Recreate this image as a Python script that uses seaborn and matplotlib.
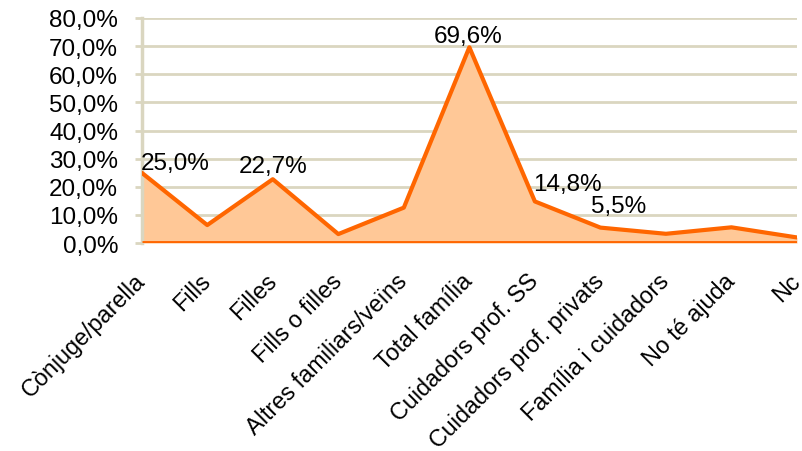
import matplotlib
matplotlib.use("Agg")
import matplotlib.pyplot as plt
import seaborn as sns
import pandas as pd
import numpy as np

categories = ["Cònjuge/parella", "Fills", "Filles", "Fills o filles",
              "Altres familiars/veïns", "Total família", "Cuidadors prof. SS",
              "Cuidadors prof. privats", "Família i cuidadors", "No té ajuda", "Nc"]
values = [25.0, 6.4, 22.7, 3.2, 12.6, 69.6, 14.8, 5.5, 3.3, 5.6, 2.0]
labelled = {0: "25,0%", 2: "22,7%", 5: "69,6%", 6: "14,8%", 7: "5,5%"}
yticks = [0, 10, 20, 30, 40, 50, 60, 70, 80]
ytick_labels = ["0,0%", "10,0%", "20,0%", "30,0%", "40,0%", "50,0%", "60,0%", "70,0%", "80,0%"]

sns.set_style("white")
plt.rcParams['font.family'] = ['Liberation Sans', 'DejaVu Sans']

df = pd.DataFrame({"x": np.arange(len(categories)), "v": values})

fig = plt.figure(figsize=(8.03, 4.52), dpi=100)
ax = fig.add_axes([0.1765, 0.46, 0.816, 0.498])

grid_c = "#DAD6C0"
line_c = "#FF6600"
fill_c = "#FFC897"

ax.fill_between(df["x"], 0, df["v"], color=fill_c, zorder=2, linewidth=0)
sns.lineplot(data=df, x="x", y="v", ax=ax, color=line_c, linewidth=3, zorder=3)
ax.plot([0, len(categories) - 1], [0, 0], color=line_c, linewidth=3.5, zorder=3, solid_capstyle="butt")

ax.set_xlim(0, len(categories) - 1)
ax.set_ylim(0, 80)
ax.set_yticks(yticks)
ax.set_yticklabels(ytick_labels, fontsize=17.5)
ax.set_xticks(df["x"])
ax.set_xticklabels(categories, fontsize=16.8, rotation=45, ha="right", va="center",
                   rotation_mode="anchor")
ax.tick_params(axis="x", length=0, pad=24.5, labelcolor="black")
ax.tick_params(axis="y", length=5, width=2, color=grid_c, pad=12, left=True, labelcolor="black")
ax.yaxis.grid(True, color=grid_c, linewidth=2)
ax.set_axisbelow(True)
for s in ["top", "right", "bottom"]:
    ax.spines[s].set_visible(False)
ax.spines["left"].set_color(grid_c)
ax.spines["left"].set_linewidth(2.5)
ax.set_xlabel("")
ax.set_ylabel("")

offsets = {0: (-0.5, 3, "left"), 2: (0, 5.5, "center"), 5: (-1, 4, "center"),
           6: (-1, 8.5, "left"), 7: (-6.5, 11, "left")}
for i, txt in labelled.items():
    dx, dy, ha = offsets[i]
    ax.annotate(txt, (df["x"][i], df["v"][i]), xytext=(dx, dy), textcoords="offset points",
                ha=ha, va="baseline", fontsize=17.5, color="black", zorder=5)

fig.savefig("out.png", dpi=100)
